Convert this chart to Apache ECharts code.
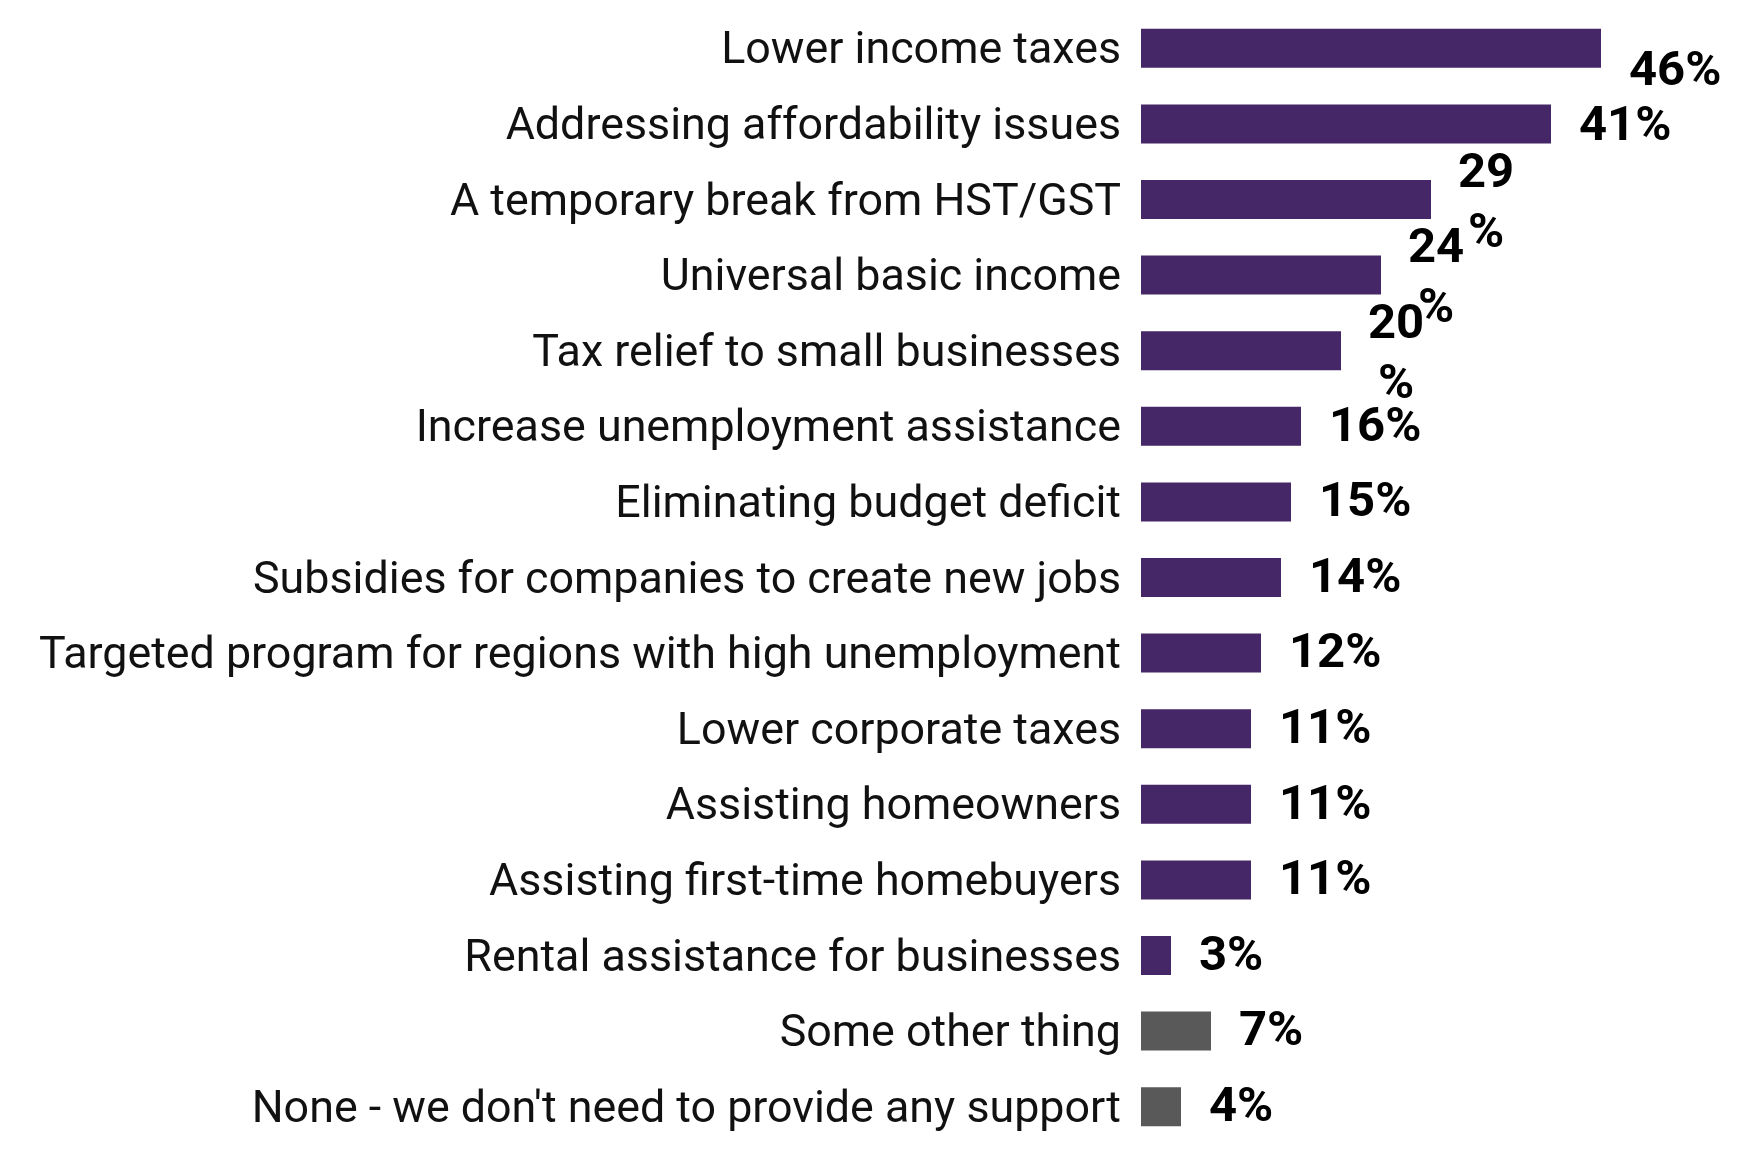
<!DOCTYPE html>
<html>
<head>
<meta charset="utf-8">
<style>
  html, body { margin: 0; padding: 0; background: #ffffff; }
  #chart { width: 1745px; height: 1158px; }
</style>
<script src="https://cdn.jsdelivr.net/npm/echarts@6/dist/echarts.min.js"></script>
</head>
<body>
<div id="chart"></div>
<script>
const categories = [
  "Lower income taxes",
  "Addressing affordability issues",
  "A temporary break from HST/GST",
  "Universal basic income",
  "Tax relief to small businesses",
  "Increase unemployment assistance",
  "Eliminating budget deficit",
  "Subsidies for companies to create new jobs",
  "Targeted program for regions with high unemployment",
  "Lower corporate taxes",
  "Assisting homeowners",
  "Assisting first-time homebuyers",
  "Rental assistance for businesses",
  "Some other thing",
  "None - we don't need to provide any support"
];
const values = [46, 41, 29, 24, 20, 16, 15, 14, 12, 11, 11, 11, 3, 7, 4];
const otherCategories = ["Some other thing", "None - we don't need to provide any support"];
const wrappedLabelCategories = ["A temporary break from HST/GST", "Universal basic income", "Tax relief to small businesses"];

const PURPLE = '#452666';
const GRAY = '#595959';

const data = values.map((v, i) => {
  const cat = categories[i];
  const item = {
    value: v,
    itemStyle: { color: otherCategories.includes(cat) ? GRAY : PURPLE }
  };
  let dy = 2;
  if (i === 0) dy = 24;
  if (i === 1) dy = 4;
  if (wrappedLabelCategories.includes(cat)) {
    item.label = {
      formatter: '{c}\n%',
      align: 'center',
      offset: [27, 5],
      lineHeight: 60
    };
  } else {
    item.label = { offset: [0, dy] };
  }
  return item;
});

const chart = echarts.init(document.getElementById('chart'), null, { renderer: 'canvas' });
chart.setOption({
  backgroundColor: '#ffffff',
  animation: false,
  grid: { left: 1141, right: 104, top: 10.5, bottom: 13.5, containLabel: false },
  xAxis: {
    type: 'value', min: 0, max: 50, show: false,
    splitLine: { show: false }
  },
  yAxis: {
    type: 'category',
    data: categories,
    inverse: true,
    axisLine: { show: false },
    axisTick: { show: false },
    axisLabel: {
      margin: 20,
      color: '#111111',
      fontFamily: 'Roboto',
      fontSize: 44.8,
      fontWeight: 'normal',
      formatter: (v) => '{t|' + v + '}',
      rich: {
        t: {
          fontFamily: 'Roboto',
          fontSize: 44.8,
          color: '#111111',
          padding: [8, 0, 0, 0]
        }
      }
    }
  },
  series: [{
    type: 'bar',
    data: data,
    barWidth: 39,
    label: {
      show: true,
      position: 'right',
      distance: 28,
      formatter: '{c}%',
      color: '#000000',
      fontFamily: 'Roboto',
      fontWeight: 'bold',
      fontSize: 49
    }
  }]
});
</script>
</body>
</html>
